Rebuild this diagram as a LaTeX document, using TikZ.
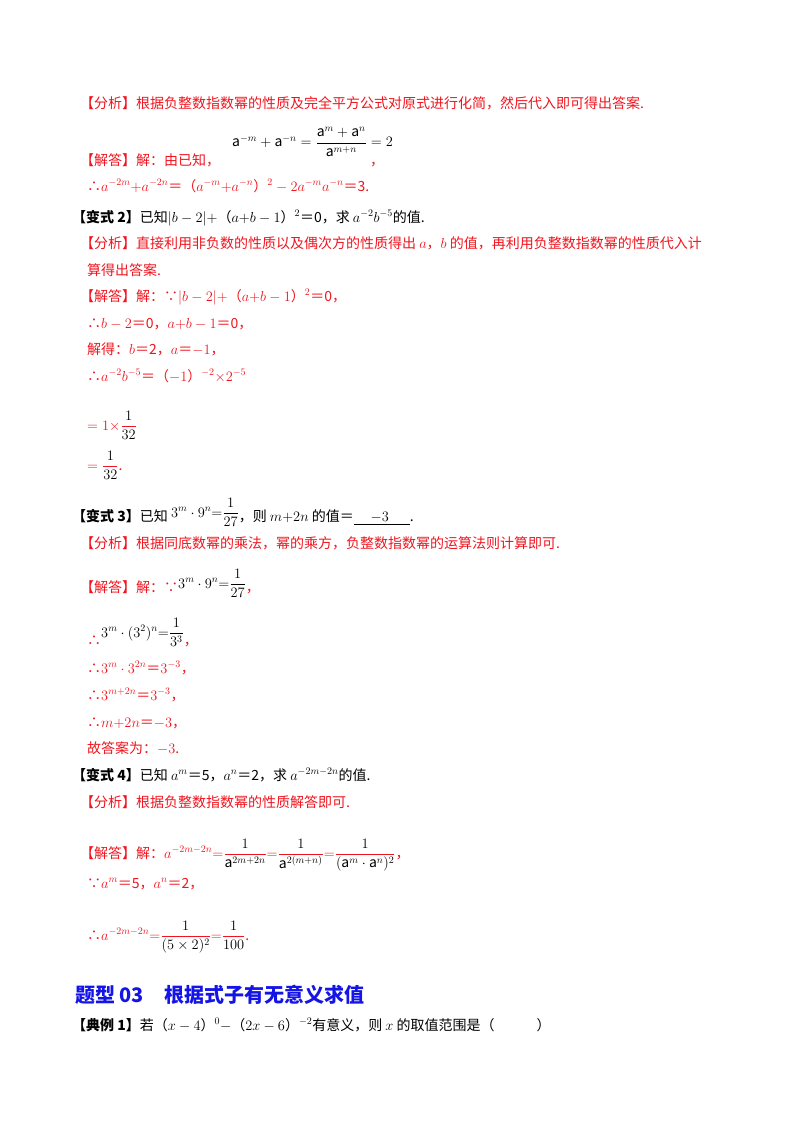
\documentclass[tikz,border=0pt]{standalone}
\usepackage{fontspec}
\setmainfont{Noto Sans CJK SC}
\usepackage{amsmath,amssymb}
\definecolor{rd}{RGB}{240,20,30}
\definecolor{bl}{RGB}{20,20,230}
\begin{document}
\begin{tikzpicture}[x=1pt,y=-1pt,
 t/.style={anchor=base west,inner sep=0pt,font=\fontsize{14}{16}\selectfont},
 r/.style={t,text=rd},
 k/.style={t,text=black}]
\useasboundingbox (0,0) rectangle (800,1132);
\node[r] (a1) at (80,108) {【分析】根据负整数指数幂的性质及完全平方公式对原式进行化简，然后代入即可得出答案.};
\node[r] (s1) at (80,165) {【解答】解：由已知，};
\node[k,anchor=west] (f1) at (232,142) {$\mathrm{a}^{-m}+\mathrm{a}^{-n}=\dfrac{\mathrm{a}^{m}+\mathrm{a}^{n}}{\mathrm{a}^{m+n}}=2$};
\node[r] (c1) at (370,165) {，};
\node[r] (l1) at (87,191) {∴$a^{-2m}{+}a^{-2n}$＝（$a^{-m}{+}a^{-n}$）$^{2}-2a^{-m}a^{-n}$＝3.};
\node[k] (v2) at (72,222) {\textbf{【变式 2】}已知$|b-2|+$（$a{+}b-1$）$^{2}$＝0，求 $a^{-2}b^{-5}$的值.};
\node[r] (a2) at (80,248) {【分析】直接利用非负数的性质以及偶次方的性质得出 $a$，$b$ 的值，再利用负整数指数幂的性质代入计};
\node[r] (a2b) at (87,275) {算得出答案.};
\node[r] (s2) at (80,301) {【解答】解：∵$|b-2|+$（$a{+}b-1$）$^{2}$＝0，};
\node[r] (l2) at (87,328) {∴$b-2$＝0，$a{+}b-1$＝0，};
\node[r] (l3) at (87,354) {解得：$b$＝2，$a$＝$-1$，};
\node[r] (l4) at (87,381) {∴$a^{-2}b^{-5}$＝（$-1$）$^{-2}{\times}2^{-5}$};
\node[r] (l5) at (87,430) {$=1{\times}\dfrac{\textcolor{black}{1}}{\textcolor{black}{32}}$};
\node[r] (l6) at (87,470) {$=\dfrac{\textcolor{black}{1}}{\textcolor{black}{32}}$.};
\node[k] (v3) at (72,521) {\textbf{【变式 3】}已知 \raisebox{4pt}{$3^{m}\cdot9^{n}{=}\dfrac{1}{27}$}，则 $m{+}2n$ 的值＝\underline{\hspace{1.2em}$-3$\hspace{1.5em}}.};
\node[r] (a3) at (80,548) {【分析】根据同底数幂的乘法，幂的乘方，负整数指数幂的运算法则计算即可.};
\node[r] (s3) at (80,592) {【解答】解：∵\raisebox{4pt}{\textcolor{black}{$3^{m}\cdot9^{n}{=}\dfrac{1}{27}$}}，};
\node[r] (l7) at (87,645) {∴\raisebox{8pt}{\textcolor{black}{$3^{m}\cdot(3^{2})^{n}{=}\dfrac{1}{3^{3}}$}}，};
\node[r] (l8) at (87,673) {∴$3^{m}\cdot3^{2n}$＝$3^{-3}$，};
\node[r] (l9) at (87,700) {∴$3^{m+2n}$＝$3^{-3}$，};
\node[r] (l10) at (87,727) {∴$m{+}2n$＝$-3$，};
\node[r] (l11) at (87,753) {故答案为：$-3$.};
\node[k] (v4) at (72,780) {\textbf{【变式 4】}已知 $a^{m}$＝5，$a^{n}$＝2，求 $a^{-2m-2n}$的值.};
\node[r] (a4) at (80,807) {【分析】根据负整数指数幂的性质解答即可.};
\node[r] (s4) at (80,858) {【解答】解：$a^{-2m-2n}{=}\dfrac{\textcolor{black}{1}}{\textcolor{black}{\mathrm{a}^{2m+2n}}}{=}\dfrac{\textcolor{black}{1}}{\textcolor{black}{\mathrm{a}^{2(m+n)}}}{=}\dfrac{\textcolor{black}{1}}{\textcolor{black}{(\mathrm{a}^{m}\cdot\mathrm{a}^{n})^{2}}}$，};
\node[r] (l12) at (87,888) {∵$a^{m}$＝5，$a^{n}$＝2，};
\node[r] (l13) at (87,940) {∴$a^{-2m-2n}{=}\dfrac{\textcolor{black}{1}}{\textcolor{black}{(5\times2)^{2}}}{=}\dfrac{\textcolor{black}{1}}{\textcolor{black}{100}}$.};
\node[t,text=bl,font=\fontsize{20}{23}\selectfont\bfseries] (h) at (75,1002) {题型 03\quad 根据式子有无意义求值};
\node[k] (d1) at (72,1030) {\textbf{【典例 1】}若（$x-4$）$^{0}-$（$2x-6$）$^{-2}$有意义，则 $x$ 的取值范围是（\hspace{3em}）};
\end{tikzpicture}
\end{document}
